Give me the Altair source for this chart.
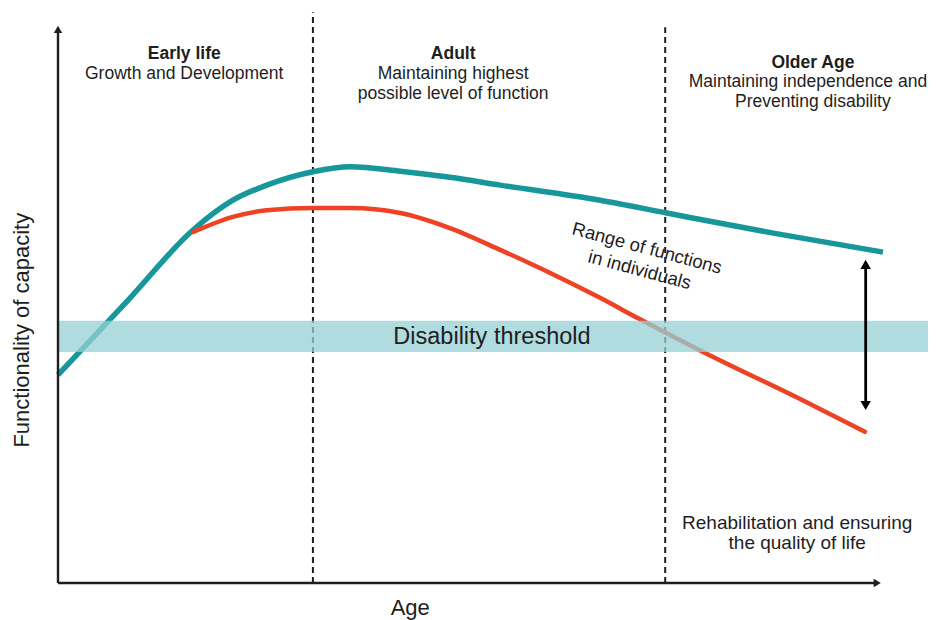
import altair as alt
import pandas as pd

# Conceptual curves (Age 0-100, Functionality 0-100)
teal_age = [0, 8.5, 16.4, 21.2, 25.3, 30.9, 35.4, 41.5, 47.5, 53.6, 65.7, 73.8, 86.7, 100]
teal_fun = [37.3, 50.7, 63.3, 68.6, 71.3, 73.7, 74.6, 73.8, 72.7, 71.3, 68.6, 66.3, 62.7, 59.3]

red_age = [16.4, 21.2, 25.3, 30.9, 35.4, 41.5, 47.5, 53.6, 59.6, 65.7, 70.5, 78.2, 89.9, 97.8]
red_fun = [62.9, 65.6, 66.8, 67.2, 67.2, 66.3, 63.6, 59.7, 55.6, 51.1, 47.3, 41.4, 33.0, 27.1]

band_age = [0, 107]
band_low, band_high = 41.4, 47.0

phase_age = [30.9, 73.6]
phase_top = [102.3, 99.6]

range_arrow_age = 97.9
range_arrow_top, range_arrow_bottom = 58.4, 30.5

phase_titles = ["Early life", "Adult", "Older Age"]
phase_title_age = [15.3, 47.9, 91.5]
phase_title_fun = [94.8, 94.8, 93.2]

sub_texts = ["Growth and Development", "Maintaining highest", "possible level of function",
             "Maintaining independence and", "Preventing disability"]
sub_age = [15.3, 47.9, 47.9, 90.9, 91.5]
sub_fun = [91.2, 91.2, 87.6, 89.8, 86.2]

rehab_texts = ["Rehabilitation and ensuring", "the quality of life"]
rehab_age = [89.6, 89.6]
rehab_fun = [10.8, 7.2]

range_texts = ["Range of functions", "in individuals"]
range_age = [71.4, 70.5]
range_fun = [60.0, 56.1]

X = alt.X("a:Q", scale=alt.Scale(domain=[0, 100]), axis=None)
Y = alt.Y("f:Q", scale=alt.Scale(domain=[0, 100]), axis=None)
FONT = "Liberation Sans"
INK = "#1e1e1e"

teal = alt.Chart(pd.DataFrame({"a": teal_age, "f": teal_fun})).mark_line(
    color="#17979a", strokeWidth=5.5, interpolate="monotone", strokeCap="butt").encode(x=X, y=Y)
red = alt.Chart(pd.DataFrame({"a": red_age, "f": red_fun})).mark_line(
    color="#ef4123", strokeWidth=4.5, interpolate="monotone", strokeCap="round").encode(x=X, y=Y)

band = alt.Chart(pd.DataFrame({"a": [band_age[0]], "a2": [band_age[1]],
                               "f": [band_low], "f2": [band_high]})).mark_rect(
    color="#96d0d6", opacity=0.75).encode(x=X, x2="a2:Q", y=Y, y2="f2:Q")

phases = alt.Chart(pd.DataFrame({"a": phase_age, "f": [0, 0], "f2": phase_top})).mark_rule(
    color=INK, strokeWidth=2, strokeDash=[6, 4]).encode(x=X, y=Y, y2="f2:Q")

yaxis = alt.Chart(pd.DataFrame({"a": [0], "f": [0], "f2": [99]})).mark_rule(
    color=INK, strokeWidth=2.4).encode(x=X, y=Y, y2="f2:Q")
xaxis = alt.Chart(pd.DataFrame({"a": [0], "a2": [99], "f": [0]})).mark_rule(
    color=INK, strokeWidth=2.4).encode(x=X, x2="a2:Q", y=Y)
yhead = alt.Chart(pd.DataFrame({"a": [0], "f": [99.2]})).mark_point(
    shape="triangle-up", filled=True, color=INK, size=70, opacity=1).encode(x=X, y=Y)
xhead = alt.Chart(pd.DataFrame({"a": [99.3], "f": [0]})).mark_point(
    shape="triangle-right", filled=True, color=INK, size=70, opacity=1).encode(x=X, y=Y)

rng = alt.Chart(pd.DataFrame({"a": [range_arrow_age], "f": [range_arrow_bottom + 1.5],
                              "f2": [range_arrow_top - 1.5]})).mark_rule(
    color="#000", strokeWidth=2.8).encode(x=X, y=Y, y2="f2:Q")
rng_top = alt.Chart(pd.DataFrame({"a": [range_arrow_age], "f": [range_arrow_top - 1.3]})).mark_point(
    shape="triangle-up", filled=True, color="#000", size=110, opacity=1).encode(x=X, y=Y)
rng_bot = alt.Chart(pd.DataFrame({"a": [range_arrow_age], "f": [range_arrow_bottom + 1.3]})).mark_point(
    shape="triangle-down", filled=True, color="#000", size=110, opacity=1).encode(x=X, y=Y)

titles = alt.Chart(pd.DataFrame({"a": phase_title_age, "f": phase_title_fun, "t": phase_titles})).mark_text(
    font=FONT, fontSize=17.5, fontWeight="bold", color=INK, baseline="middle").encode(x=X, y=Y, text="t:N")
subs = alt.Chart(pd.DataFrame({"a": sub_age, "f": sub_fun, "t": sub_texts})).mark_text(
    font=FONT, fontSize=17.5, color=INK, baseline="middle").encode(x=X, y=Y, text="t:N")
rehab = alt.Chart(pd.DataFrame({"a": rehab_age, "f": rehab_fun, "t": rehab_texts})).mark_text(
    font=FONT, fontSize=19, color=INK, baseline="middle").encode(x=X, y=Y, text="t:N")
rtext = alt.Chart(pd.DataFrame({"a": range_age, "f": range_fun, "t": range_texts})).mark_text(
    font=FONT, fontSize=18.5, color=INK, baseline="middle", angle=15).encode(x=X, y=Y, text="t:N")
dis = alt.Chart(pd.DataFrame({"a": [52.6], "f": [44.1], "t": ["Disability threshold"]})).mark_text(
    font=FONT, fontSize=23.5, color=INK, baseline="middle").encode(x=X, y=Y, text="t:N")
ytitle = alt.Chart(pd.DataFrame({"a": [-4.4], "f": [45.3], "t": ["Functionality of capacity"]})).mark_text(
    font=FONT, fontSize=22, color=INK, baseline="middle", angle=270).encode(x=X, y=Y, text="t:N")
xtitle = alt.Chart(pd.DataFrame({"a": [42.7], "f": [-4.4], "t": ["Age"]})).mark_text(
    font=FONT, fontSize=22, color=INK, baseline="middle").encode(x=X, y=Y, text="t:N")

chart = alt.layer(
    phases, teal, red, band, yaxis, xaxis, yhead, xhead, rng, rng_top, rng_bot,
    titles, subs, rehab, rtext, dis, ytitle, xtitle
).properties(
    width=825, height=558,
    autosize=alt.AutoSizeParams(type="none"),
    padding={"left": 50, "top": 17, "right": 45, "bottom": 37},
    background="white",
).configure_view(stroke=None)

chart.save("out.html", embed_options={"renderer": "svg", "actions": False})
